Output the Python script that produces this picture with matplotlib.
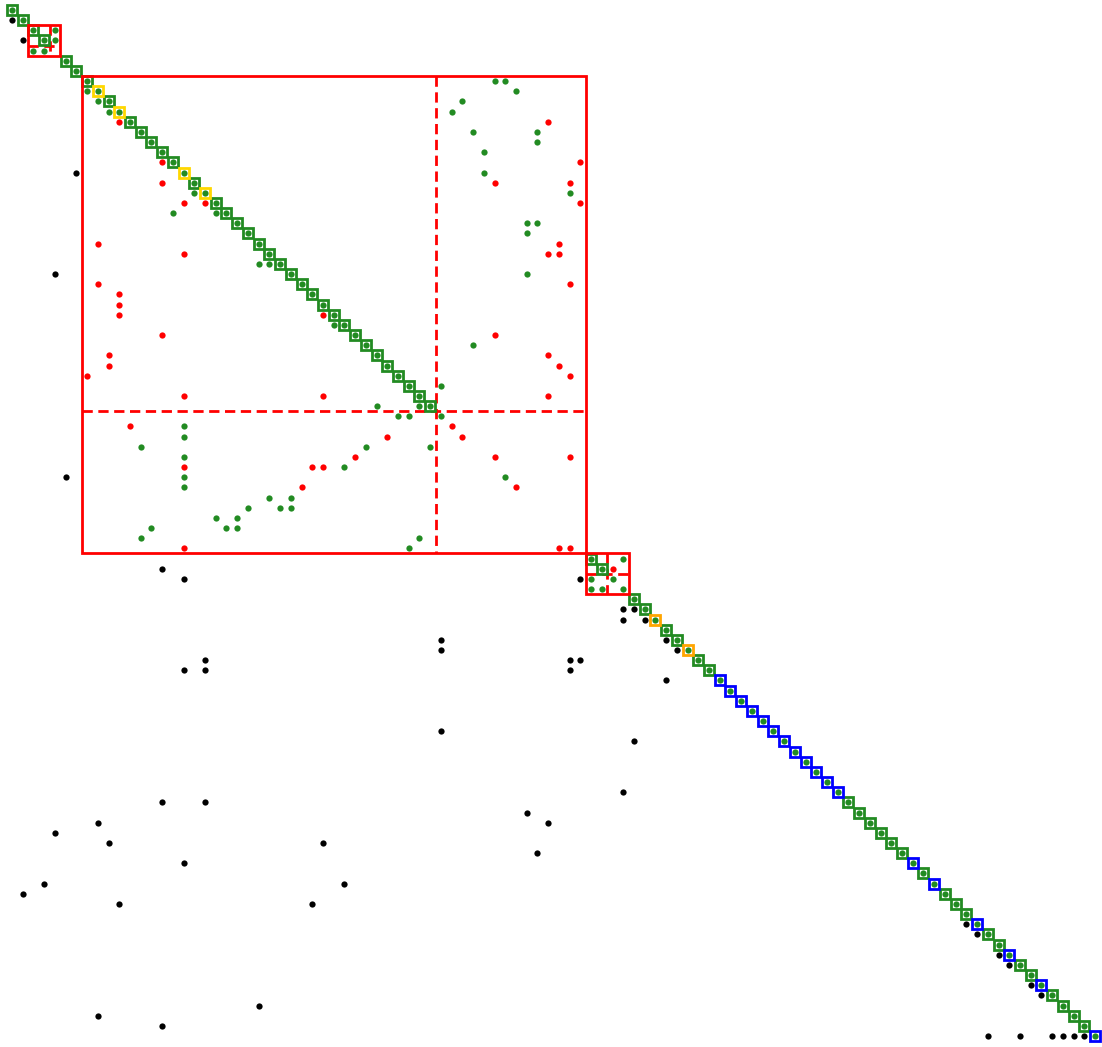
import matplotlib
matplotlib.use("Agg")
import matplotlib.pyplot as plt
from matplotlib.patches import Rectangle

N = 102

# Diagonal blocks of the permuted matrix: (first index, last index, split index)
blocks = [(2, 4, 3), (7, 53, 39), (54, 57, 55)]

# Diagonal positions without a frame (all others are framed matches)
unframed = [4, 40, 41, 42, 43, 44, 45, 46, 47, 48, 49, 50, 51, 52, 53, 56, 57]
yellow_frames = [8, 10, 16, 18]
orange_frames = [60, 63]
blue_frames = [66, 67, 68, 69, 70, 71, 72, 73, 74, 75, 76, 77, 84, 86, 90, 93, 96, 101]

# Off-frame nonzeros as (row, col)
green_entries = [
    (2, 4), (3, 4), (4, 2), (4, 3),
    (8, 7), (9, 8), (10, 9), (18, 17), (20, 19), (20, 15), (25, 23), (25, 24),
    (31, 30), (39, 34), (39, 38),
    (7, 45), (7, 46), (8, 47), (9, 42), (10, 41), (12, 43), (12, 49), (13, 49),
    (14, 44), (16, 44), (18, 52), (21, 48), (21, 49), (22, 48), (26, 48),
    (33, 43), (37, 40),
    (40, 36), (40, 37), (41, 16), (42, 16), (43, 12), (44, 16), (46, 16), (47, 16),
    (43, 33), (45, 31), (48, 24), (48, 26), (49, 25), (49, 26), (49, 22), (50, 19),
    (50, 21), (51, 20), (51, 21), (51, 13), (52, 12), (53, 37), (52, 38), (43, 39),
    (40, 40), (46, 46),
    (54, 57), (56, 54), (56, 56), (57, 54), (57, 55), (57, 57),
]

red_entries = [
    (11, 10), (15, 14), (17, 14), (19, 16), (19, 18), (23, 8), (24, 16), (27, 8),
    (28, 10), (29, 10), (30, 10), (32, 14), (34, 9), (35, 9), (36, 7), (38, 16),
    (38, 29), (30, 29),
    (11, 50), (15, 53), (17, 45), (17, 52), (19, 53), (23, 51), (24, 50), (24, 51),
    (27, 52), (32, 45), (34, 50), (35, 51), (36, 52), (38, 50),
    (41, 11), (45, 16), (53, 16), (47, 27), (45, 28), (45, 29), (44, 32), (42, 35),
    (41, 41), (42, 42), (44, 45), (44, 52), (47, 47), (53, 51), (53, 52),
    (55, 56),
]

black_entries = [
    (1, 0), (3, 1), (16, 6), (26, 4), (46, 5), (55, 14), (56, 16), (56, 53),
    (59, 57), (59, 58), (60, 57), (60, 59), (62, 40), (63, 40), (62, 61), (63, 62),
    (64, 18), (64, 52), (64, 53), (65, 16), (65, 18), (65, 52), (66, 61), (71, 40),
    (72, 58), (77, 57), (78, 14), (78, 18), (79, 48), (80, 8), (80, 50), (81, 4),
    (82, 9), (82, 29), (83, 49), (84, 16), (86, 3), (86, 31), (87, 1), (88, 10),
    (88, 28), (98, 23), (99, 8), (100, 14),
    (90, 89), (91, 90), (93, 92), (94, 93), (96, 95), (97, 96),
    (101, 91), (101, 94), (101, 97), (101, 98), (101, 99), (101, 100),
]

GREEN = "#228b22"
RED = "#ff0000"
YELLOW = "#ffd700"
ORANGE = "#ffa500"
BLUE = "#0000ff"

fig = plt.figure(figsize=(11.02, 10.47), dpi=100)
ax = fig.add_axes([0.00603, 0.00564, 0.99252, 0.98967])
ax.set_xlim(-0.5, N - 0.5)
ax.set_ylim(N - 0.5, -0.5)
ax.axis("off")

# block outlines and their internal splits
for first, last, split in blocks:
    lo, hi = first - 0.5, last + 0.5
    ax.add_patch(Rectangle((lo, lo), hi - lo, hi - lo, fill=False, ec=RED,
                           lw=2, zorder=3, clip_on=False))
    s = split + 0.5
    ax.plot([s, s], [lo, hi], color=RED, lw=2, dashes=(3.7, 2.0), zorder=1)
    ax.plot([lo, hi], [s, s], color=RED, lw=2, dashes=(3.7, 2.0), zorder=1)

# framed diagonal entries
framed = [i for i in range(N) if i not in unframed]
special = set(yellow_frames) | set(orange_frames) | set(blue_frames)
plain = [i for i in framed if i not in special]
for idx, col in ((plain, GREEN), (yellow_frames, YELLOW),
                 (orange_frames, ORANGE), (blue_frames, BLUE)):
    ax.plot(idx, idx, "s", ms=7.2, mfc="white", mec=col, mew=2,
            zorder=2, clip_on=False)

dot = dict(ls="none", marker="o", ms=4.5, mew=0, zorder=4, clip_on=False)
ax.plot(framed, framed, color=GREEN, **dot)
for entries, col in ((green_entries, GREEN), (red_entries, RED),
                     (black_entries, "black")):
    rows = [r for r, c in entries]
    cols = [c for r, c in entries]
    ax.plot(cols, rows, color=col, **dot)

fig.savefig("out.png", dpi=100)
